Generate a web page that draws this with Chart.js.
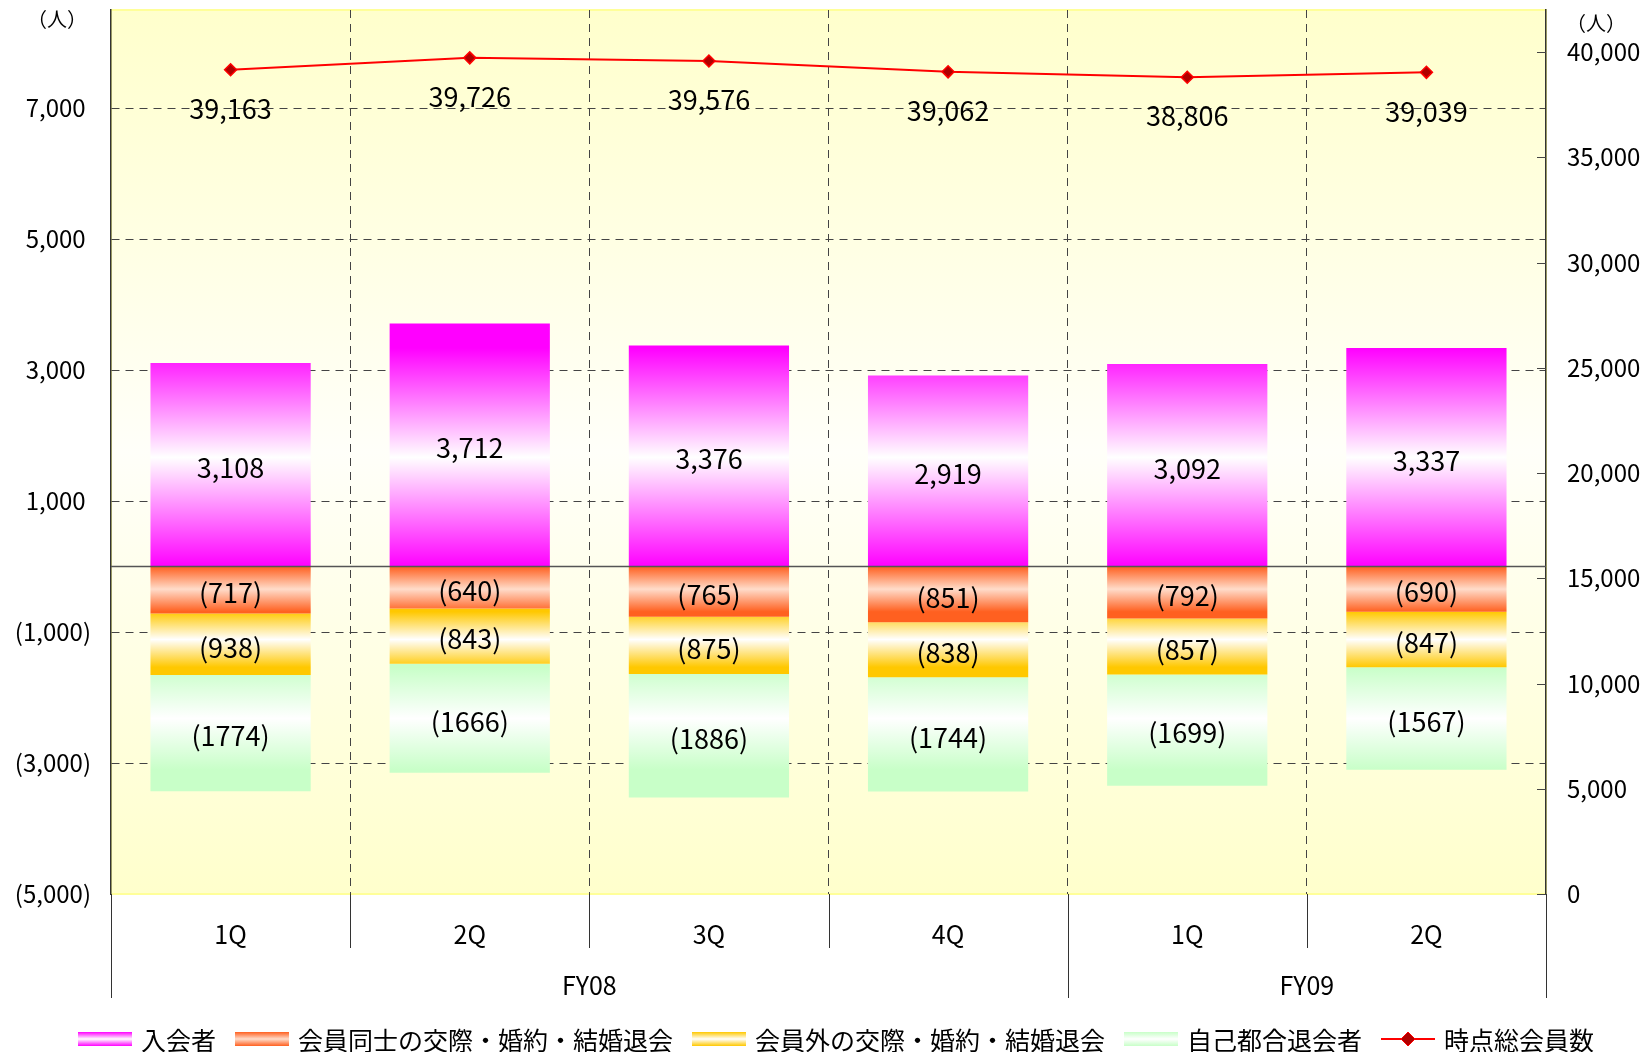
<!DOCTYPE html>
<html lang="ja">
<head>
<meta charset="utf-8">
<title>会員数推移</title>
<script src="https://cdn.jsdelivr.net/npm/chart.js@4.4.1/dist/chart.umd.min.js"></script>
<style>
  html, body { margin: 0; padding: 0; background: #fff; }
  #wrap { width: 1652px; height: 1052px; position: relative; }
</style>
</head>
<body>
<div id="wrap"><canvas id="grafico"></canvas></div>
<script>
// データ
const quarters = ['1Q', '2Q', '3Q', '4Q', '1Q', '2Q'];
const fiscalYears = ['FY08', 'FY09'];
const fyQuarterCount = [4, 2];

const newMembers = [3108, 3712, 3376, 2919, 3092, 3337];          // 入会者
const leftMarriedMember = [717, 640, 765, 851, 792, 690];         // 会員同士の交際・婚約・結婚退会
const leftMarriedOther = [938, 843, 875, 838, 857, 847];          // 会員外の交際・婚約・結婚退会
const leftOwnReason = [1774, 1666, 1886, 1744, 1699, 1567];       // 自己都合退会者
const totalMembers = [39163, 39726, 39576, 39062, 38806, 39039];  // 時点総会員数

const leftTicks = [-5000, -3000, -1000, 1000, 3000, 5000, 7000];
const rightTicks = [0, 5000, 10000, 15000, 20000, 25000, 30000, 35000, 40000];

const FONT = "'Noto Sans CJK JP', 'Noto Sans', sans-serif";
Chart.defaults.font.family = FONT;
Chart.defaults.color = '#000';

// グラデーション (上端・中央・下端)
const gradBarras = [
    ['#FF00FF', '#FFFFFF', '#FF00FF'],
    ['#FF6020', '#FFDCCA', '#FF6020'],
    ['#FFC800', '#FFFFFF', '#FFC800'],
    ['#C8FFC8', '#FFFFFF', '#C8FFC8']
];

function fmt(v) { return v.toLocaleString('en-US'); }

function gradiente(ctx, top, bottom, cores) {
    const g = ctx.createLinearGradient(0, top, 0, bottom);
    g.addColorStop(0, cores[0]);
    g.addColorStop(0.5, cores[1]);
    g.addColorStop(1, cores[2]);
    return g;
}

// sem margem extra para os rótulos nas pontas
function semPadding(s) {
    s.paddingTop = 0;
    s.paddingBottom = 0;
}

const pluginFundo = {
    id: 'fundo',
    beforeDraw(chart) {
        const { ctx, chartArea: a } = chart;
        ctx.save();
        const g = ctx.createLinearGradient(0, a.top, 0, a.bottom);
        g.addColorStop(0, '#FFFFCC');
        g.addColorStop(0.5, '#FFFFF9');
        g.addColorStop(1, '#FFFFCC');
        ctx.fillStyle = g;
        ctx.fillRect(a.left, a.top, a.right - a.left, a.bottom - a.top);
        ctx.strokeStyle = '#FFFF99';
        ctx.lineWidth = 2;
        ctx.strokeRect(a.left, a.top, a.right - a.left, a.bottom - a.top);
        ctx.restore();
    },
    beforeDatasetsDraw(chart) {
        // cada barra com sua própria gradiente
        const ctx = chart.ctx;
        chart.data.datasets.forEach((ds, i) => {
            if (ds.type === 'line') return;
            const meta = chart.getDatasetMeta(i);
            meta.data.forEach(el => {
                const top = Math.min(el.y, el.base), bottom = Math.max(el.y, el.base);
                el.options.backgroundColor = gradiente(ctx, top, bottom, gradBarras[i]);
            });
        });
    },
    afterDatasetsDraw(chart) {
        const { ctx, chartArea: a, scales } = chart;
        ctx.save();
        // linha do zero
        const y0 = scales.y.getPixelForValue(0);
        ctx.strokeStyle = '#555';
        ctx.lineWidth = 1.5;
        ctx.beginPath();
        ctx.moveTo(a.left, y0);
        ctx.lineTo(a.right, y0);
        ctx.stroke();

        // marcas do eixo direito (para dentro)
        ctx.lineWidth = 1;
        ctx.strokeStyle = '#444';
        rightTicks.forEach(v => {
            const y = Math.round(scales.y1.getPixelForValue(v)) + 0.5;
            ctx.beginPath();
            ctx.moveTo(a.right - 9, y);
            ctx.lineTo(a.right, y);
            ctx.stroke();
        });

        // rótulos das barras
        ctx.fillStyle = '#000';
        ctx.textAlign = 'center';
        ctx.textBaseline = 'middle';
        ctx.font = '27px ' + FONT;
        chart.data.datasets.forEach((ds, i) => {
            const meta = chart.getDatasetMeta(i);
            if (ds.type === 'line') {
                meta.data.forEach((pt, j) => {
                    ctx.fillText(fmt(ds.data[j]), pt.x, pt.y + 39);
                });
                return;
            }
            meta.data.forEach((el, j) => {
                const v = ds.data[j];
                const txt = v < 0 ? '(' + (-v) + ')' : fmt(v);
                ctx.fillText(txt, el.x, (el.y + el.base) / 2 + 3);
            });
        });
        ctx.restore();
    },
    afterDraw(chart) {
        const { ctx, chartArea: a, scales } = chart;
        const x = scales.x;
        const passo = (a.right - a.left) / quarters.length;
        ctx.save();
        ctx.fillStyle = '#000';
        ctx.textAlign = 'center';
        ctx.textBaseline = 'middle';

        // categorias em dois níveis
        ctx.font = '25px ' + FONT;
        quarters.forEach((q, i) => ctx.fillText(q, x.getPixelForValue(i), a.bottom + 40));
        let inicio = 0;
        const fronteiras = [0];
        fiscalYears.forEach((fy, k) => {
            const fim = inicio + fyQuarterCount[k];
            ctx.fillText(fy, a.left + passo * (inicio + fim) / 2, a.bottom + 91);
            fronteiras.push(fim);
            inicio = fim;
        });
        ctx.strokeStyle = '#333';
        ctx.lineWidth = 1;
        for (let i = 0; i <= quarters.length; i++) {
            const px = Math.round(a.left + passo * i) + 0.5;
            const longa = fronteiras.includes(i);
            ctx.beginPath();
            ctx.moveTo(px, a.bottom);
            ctx.lineTo(px, a.bottom + (longa ? 104 : 54));
            ctx.stroke();
        }

        // unidades
        ctx.font = '20px ' + FONT;
        ctx.fillText('（人）', 57, 19);
        ctx.fillText('（人）', 1596, 23);

        // legenda
        ctx.font = '25px ' + FONT;
        const itens = chart.data.datasets.map((ds, i) => ({ ds, i, w: ctx.measureText(ds.label).width }));
        const iconW = 54, gapTxt = 9, gapItem = 19;
        const total = itens.reduce((s, it) => s + iconW + gapTxt + it.w, 0) + gapItem * (itens.length - 1);
        let lx = 836 - total / 2;
        const ly = 1039;
        ctx.textAlign = 'left';
        itens.forEach(it => {
            if (it.ds.type === 'line') {
                ctx.strokeStyle = '#FF0000';
                ctx.lineWidth = 2;
                ctx.beginPath();
                ctx.moveTo(lx, ly);
                ctx.lineTo(lx + iconW, ly);
                ctx.stroke();
                const cx = lx + iconW / 2;
                ctx.fillStyle = '#B00000';
                ctx.beginPath();
                ctx.moveTo(cx, ly - 7);
                ctx.lineTo(cx + 7, ly);
                ctx.lineTo(cx, ly + 7);
                ctx.lineTo(cx - 7, ly);
                ctx.closePath();
                ctx.fill();
                ctx.strokeStyle = '#FF0000';
                ctx.lineWidth = 1;
                ctx.stroke();
            } else {
                ctx.fillStyle = gradiente(ctx, ly - 7, ly + 7, gradBarras[it.i]);
                ctx.fillRect(lx, ly - 7, iconW, 14);
            }
            ctx.fillStyle = '#000';
            ctx.fillText(it.ds.label, lx + iconW + gapTxt, ly + 1);
            lx += iconW + gapTxt + it.w + gapItem;
        });
        ctx.restore();
    }
};

const barraComum = { stack: 'membros', yAxisID: 'y', borderWidth: 0, categoryPercentage: 1, barPercentage: 0.67 };

new Chart(document.getElementById('grafico'), {
    type: 'bar',
    data: {
        labels: quarters,
        datasets: [
            { ...barraComum, label: '入会者', data: newMembers, backgroundColor: '#FF00FF' },
            { ...barraComum, label: '会員同士の交際・婚約・結婚退会', data: leftMarriedMember.map(v => -v), backgroundColor: '#FF6020' },
            { ...barraComum, label: '会員外の交際・婚約・結婚退会', data: leftMarriedOther.map(v => -v), backgroundColor: '#FFC800' },
            { ...barraComum, label: '自己都合退会者', data: leftOwnReason.map(v => -v), backgroundColor: '#C8FFC8' },
            {
                type: 'line', label: '時点総会員数', data: totalMembers, yAxisID: 'y1', order: -1,
                borderColor: '#FF0000', borderWidth: 2, tension: 0,
                pointStyle: 'rectRot', pointRadius: 6, pointBackgroundColor: '#B00000',
                pointBorderColor: '#FF0000', pointBorderWidth: 1.5
            }
        ]
    },
    options: {
        responsive: true,
        maintainAspectRatio: false,
        animation: false,
        layout: { padding: { top: 10 } },
        plugins: { legend: { display: false }, tooltip: { enabled: false } },
        scales: {
            x: {
                stacked: true,
                offset: true,
                ticks: { display: false },
                grid: {
                    offset: true,
                    drawTicks: false,
                    color: c => (c.index >= 1 && c.index < quarters.length) ? '#444' : 'transparent'
                },
                border: { display: false, dash: [8, 6] },
                afterFit: s => { s.height = 158; s.paddingLeft = 0; s.paddingRight = 0; }
            },
            y: {
                stacked: true,
                position: 'left',
                min: -5000,
                max: 8500,
                afterBuildTicks: s => { s.ticks = leftTicks.map(v => ({ value: v })); },
                ticks: {
                    padding: 20,
                    font: { size: 24 },
                    callback: v => v < 0 ? '(' + fmt(-v) + ')' : fmt(v) + ' '
                },
                grid: {
                    drawTicks: false,
                    color: c => (c.tick && c.tick.value === -5000) ? 'transparent' : '#444'
                },
                border: { display: true, color: '#333', width: 1.5, dash: [8, 6] },
                afterFit: s => { s.width = 111; semPadding(s); }
            },
            y1: {
                position: 'right',
                min: 0,
                max: 42000,
                afterBuildTicks: s => { s.ticks = rightTicks.map(v => ({ value: v })); },
                ticks: { padding: 21, font: { size: 24 }, callback: v => fmt(v) },
                grid: { display: false, drawTicks: false },
                border: { display: true, color: '#333', width: 1.5 },
                afterFit: s => { s.width = 106; semPadding(s); }
            }
        }
    },
    plugins: [pluginFundo]
});
</script>
</body>
</html>
